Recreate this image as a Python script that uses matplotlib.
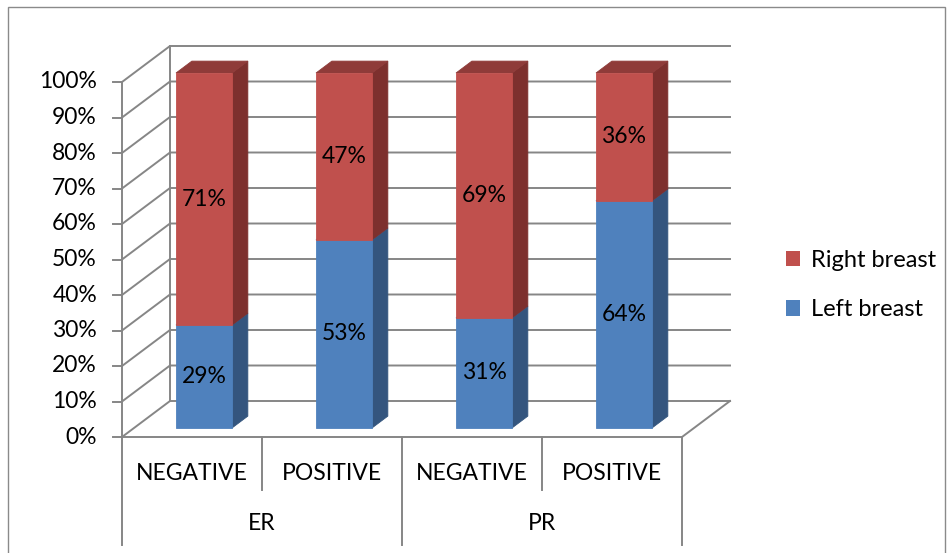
import matplotlib
matplotlib.use("Agg")
import matplotlib.pyplot as plt
from matplotlib.patches import Polygon, Patch, Rectangle

plt.rcParams['font.family'] = ['Lato', 'DejaVu Sans']

groups = ["ER", "PR"]
statuses = ["NEGATIVE", "POSITIVE", "NEGATIVE", "POSITIVE"]
left_breast = [29, 53, 31, 64]
right_breast = [71, 47, 69, 36]
y_ticks = list(range(0, 101, 10))

# layout of the fake 3D box (Excel style)
PX_CAT, PX_PCT = 140.0, 3.55      # pixels per category / per percent
ORIGIN = (122.0, 437.0)           # pixel of front-left floor corner
W, H = 953, 553
DX, DY = 48 / PX_CAT, 36 / PX_PCT  # back wall shift in data units
BAR_W = 0.4
BAR_D0, BAR_D1 = 0.25, 0.58
FS = 16.5

GRID = "#868686"
red = dict(front="#C0504D", side="#7D302E", top="#8F3B39")
blue = dict(front="#4F81BD", side="#34557E", top="#3E6796")


def proj(x, y, d):
    return (x + DX * d, y + DY * d)


def px_y(p):
    return (ORIGIN[1] - p) / PX_PCT


fig = plt.figure(figsize=(W / 100, H / 100), dpi=100)
ax = fig.add_axes([0, 0, 1, 1])
ax.set_xlim(-ORIGIN[0] / PX_CAT, (W - ORIGIN[0]) / PX_CAT)
ax.set_ylim(px_y(H), px_y(0))
ax.axis("off")

# outer chart border
ax.add_patch(Rectangle((8 / W, -0.05), (945 - 8) / W, 1.05 - 7 / H,
                       transform=ax.transAxes, fill=False, ec="#8a8a8a",
                       lw=1.0, clip_on=False))

n = len(statuses)
lw = 1.4

# back wall + side wall gridlines
for t in y_ticks:
    a = proj(0, t, 0)
    b = proj(0, t, 1)
    c = proj(n, t, 1)
    ax.plot([a[0], b[0], c[0]], [a[1], b[1], c[1]], color=GRID, lw=lw, zorder=1)
    # tick mark on the front axis
    ax.plot([-9 / PX_CAT, 0], [t, t], color=GRID, lw=lw, zorder=1)
    ax.text(-25 / PX_CAT, t, f"{t}%", ha="right", va="center", fontsize=FS)

# wall vertical edges
for d in (0, 1):
    a = proj(0, 0, d)
    b = proj(0, 100, d)
    ax.plot([a[0], b[0]], [a[1], b[1]], color=GRID, lw=lw, zorder=1)

# floor front and right edge
f0, f1, f2 = proj(0, 0, 0), proj(n, 0, 0), proj(n, 0, 1)
ax.plot([f0[0], f1[0], f2[0]], [f0[1], f1[1], f2[1]], color=GRID, lw=lw, zorder=1)

# category axis dividers
for i in range(n + 1):
    low = px_y(545) if i % 2 == 0 else px_y(490)
    ax.plot([i, i], [0, low], color=GRID, lw=lw, zorder=1)

for i, s in enumerate(statuses):
    ax.text(i + 0.5, px_y(473), s, ha="center", va="center", fontsize=FS)
for g, name in enumerate(groups):
    ax.text(2 * g + 1, px_y(523), name, ha="center", va="center", fontsize=FS)


def box(x0, x1, y0, y1, colors, z):
    front = [proj(x0, y0, BAR_D0), proj(x1, y0, BAR_D0),
             proj(x1, y1, BAR_D0), proj(x0, y1, BAR_D0)]
    side = [proj(x1, y0, BAR_D0), proj(x1, y0, BAR_D1),
            proj(x1, y1, BAR_D1), proj(x1, y1, BAR_D0)]
    top = [proj(x0, y1, BAR_D0), proj(x1, y1, BAR_D0),
           proj(x1, y1, BAR_D1), proj(x0, y1, BAR_D1)]
    for pts, key in ((side, "side"), (top, "top"), (front, "front")):
        ax.add_patch(Polygon(pts, closed=True, fc=colors[key],
                             ec=colors[key], lw=0.6, zorder=z))
    return front


for i in range(n):
    x0 = i + 0.5 - BAR_W / 2
    x1 = i + 0.5 + BAR_W / 2
    lb, rb = left_breast[i], right_breast[i]
    box(x0, x1, 0, lb, blue, 3)
    box(x0, x1, lb, lb + rb, red, 4)
    cx = (x0 + x1) / 2 + DX * BAR_D0
    ax.text(cx, lb / 2 + DY * BAR_D0, f"{lb}%", ha="center", va="center",
            fontsize=FS, zorder=6)
    ax.text(cx, lb + rb / 2 + DY * BAR_D0, f"{rb}%", ha="center", va="center",
            fontsize=FS, zorder=6)

handles = [Patch(fc=red["front"], ec="none", label="Right breast"),
           Patch(fc=blue["front"], ec="none", label="Left breast")]
ax.legend(handles=handles, loc="center left", bbox_to_anchor=(774 / W, 1 - 285 / H),
          frameon=False, fontsize=17, handlelength=0.62, handleheight=0.62,
          handletextpad=0.45, labelspacing=1.2, borderpad=0)

fig.savefig("out.png", dpi=100)
